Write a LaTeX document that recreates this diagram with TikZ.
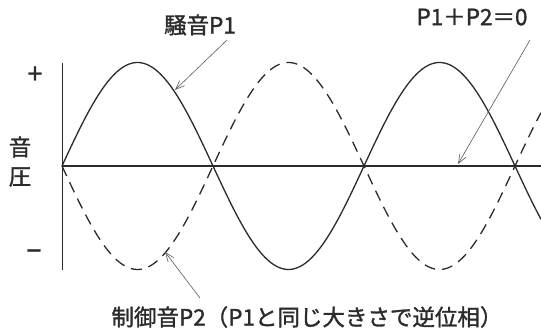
\documentclass[tikz,border=0pt]{standalone}
\usepackage{fontspec}
\setmainfont{Noto Sans CJK JP}[FakeBold=1.4]
\usetikzlibrary{arrows.meta, positioning}
\definecolor{wavegray}{HTML}{2B2B2B}
\definecolor{leadgray}{HTML}{5A5A5A}

\begin{document}
\begin{tikzpicture}[x=1pt, y=1pt,
  lbl/.style={font=\fontsize{22.5}{24}\selectfont, text=wavegray, inner sep=0pt},
  sign/.style={font=\fontsize{27}{28}\selectfont, text=wavegray, inner sep=0pt},
  wave/.style={line width=1.3pt, color=wavegray},
  leader/.style={-{Straight Barb[length=9pt, width=7pt]}, line width=0.6pt, color=leadgray},
]
\useasboundingbox (0,0) rectangle (541,331);

% Axes
\coordinate (origin) at (62,165);
\coordinate (ytop)   at (62,268);
\coordinate (ybot)   at (62,61);
\coordinate (xend)   at (541,165);
\draw[line width=1pt, color=wavegray] (ytop) -- (ybot);
\draw[line width=1.6pt, color=wavegray] (origin) -- (xend);

% Axis labels
\node[sign] (plus)  at (35,256) {+};
\node[sign] (minus) at (34,76)  {−};
\node[lbl]  (yon)   at (20,184) {音};
\node[lbl]  (yatsu) at (20,154) {圧};

% Noise P1 and control sound P2
\draw[wave] plot[domain=62:541, samples=200]
  (\x, {165 + 103.5*sin(1.19205*(\x-62))});
\draw[wave, dash pattern=on 11pt off 7pt] plot[domain=62:541, samples=200]
  (\x, {165 - 103.5*sin(1.19205*(\x-62))});

% Labels with leaders
\node[lbl] (noise)  at (200,306) {騒音P1};
\node[lbl] (sumlbl) at (472,314) {P1＋P2＝0};
\node[lbl] (ctrl)   at (307,14)  {制御音P2（P1と同じ大きさで逆位相）};

\coordinate (noisetail) at (227,291);
\coordinate (noisetip)  at (175,241);
\coordinate (sumtail)   at (530,291);
\coordinate (sumtip)    at (458,167);
\coordinate (ctrltail)  at (200,33);
\coordinate (ctrltip)   at (165,79);

\draw[leader] (noisetail) -- (noisetip);
\draw[leader] (sumtail) -- (sumtip);
\draw[leader] (ctrltail) -- (ctrltip);
\end{tikzpicture}
\end{document}
